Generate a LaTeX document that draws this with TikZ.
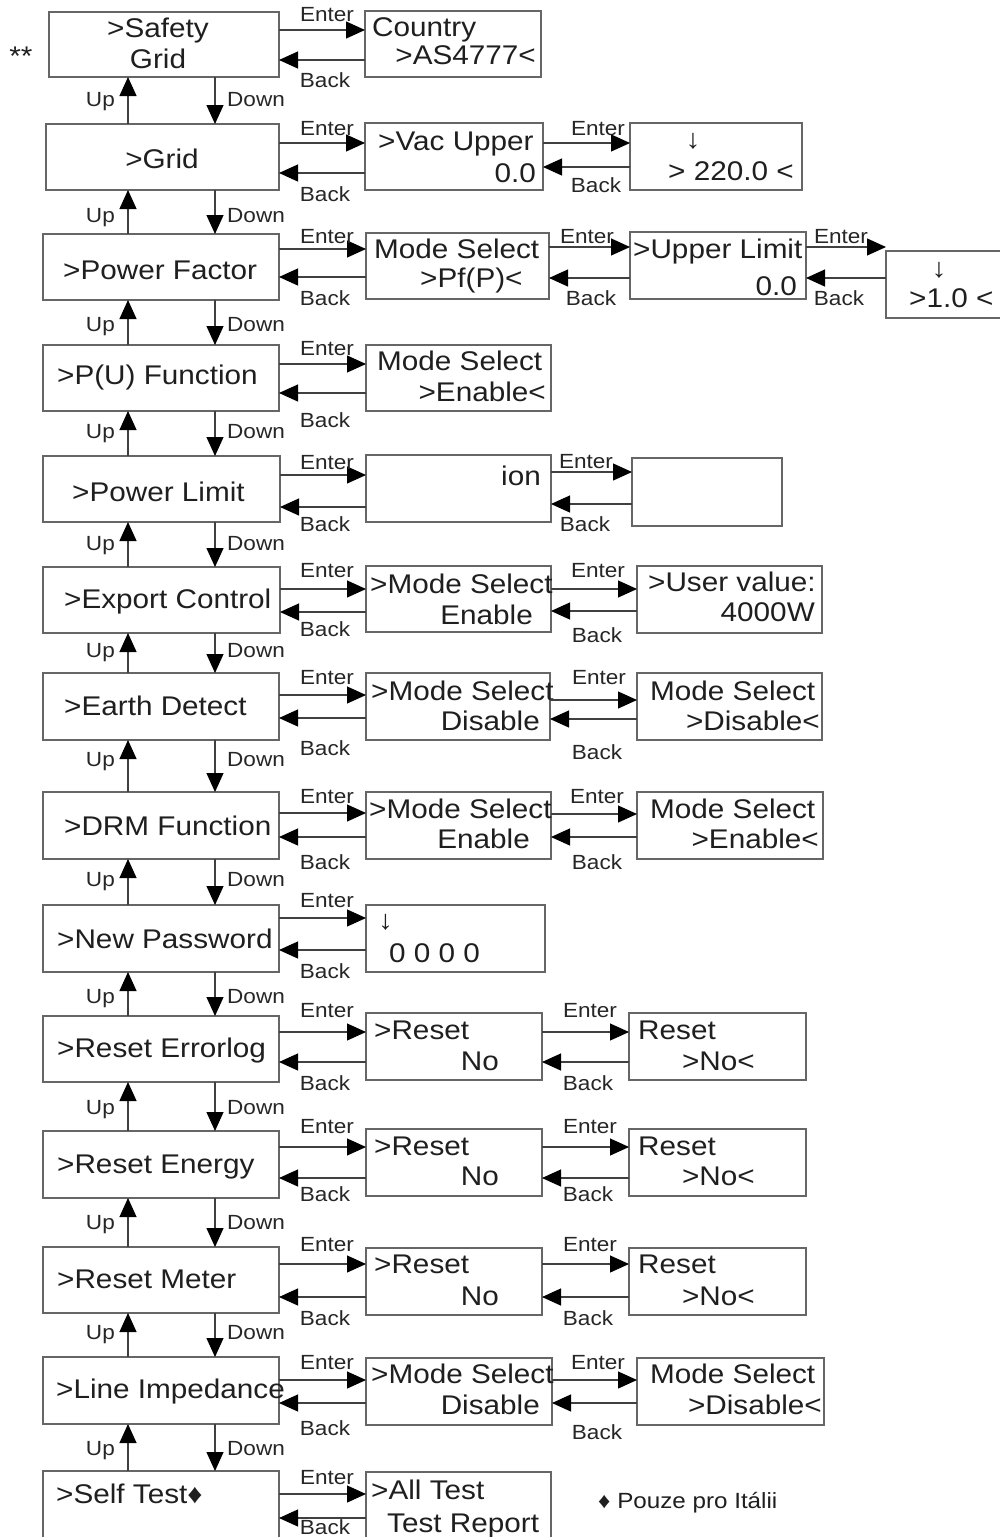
\documentclass[tikz,border=0pt]{standalone}
\usepackage{fontspec}
\setmainfont{Liberation Sans}[FakeStretch=1.1]
\usetikzlibrary{arrows.meta}
% a menu screen: name, left, top, right, bottom (y grows downwards)
\newcommand\panelbox[5]{\node[panel,minimum width={#4-#2},minimum height={#5-#3}] (#1) at (#2,#3) {};}
\begin{document}
\begin{tikzpicture}[x=1pt,y=-1pt,
  panel/.style={draw=black!60,line width=1.5pt,fill=white,anchor=north west,inner sep=0pt,outer sep=0pt},
  txt/.style={font=\fontsize{27}{30}\selectfont,inner sep=0pt,text=black!88},
  lab/.style={font=\fontsize{20.5}{22}\selectfont,inner sep=0pt,text=black!85},
  note/.style={font=\fontsize{22}{24}\selectfont,inner sep=0pt,text=black!88},
  arr/.style={draw=black!75,line width=1.1pt,-{Triangle[length=19pt,width=17pt,color=black]}},
]
\clip (0,0) rectangle (1000,1537);
\fill[white] (0,0) rectangle (1000,1537);

% ---------- left column: main menu ----------
\panelbox{m1}{49}{12}{279}{77}
\panelbox{m2}{46}{124}{279}{190}
\panelbox{m3}{43}{234}{279}{300}
\panelbox{m4}{43}{345}{279}{411}
\panelbox{m5}{43}{456}{280}{522}
\panelbox{m6}{43}{567}{280}{633}
\panelbox{m7}{43}{673}{279}{740}
\panelbox{m8}{43}{792}{279}{859}
\panelbox{m9}{43}{905}{279}{972}
\panelbox{m10}{43}{1016}{279}{1082}
\panelbox{m11}{43}{1131}{279}{1198}
\panelbox{m12}{43}{1247}{279}{1313}
\panelbox{m13}{43}{1357}{279}{1424}
\panelbox{m14}{43}{1471}{279}{1560}

\node[txt,anchor=base] (star) at (21,65) {**};
\node[txt,anchor=base] (m1a) at (158,37) {>Safety};
\node[txt,anchor=base] (m1b) at (158,68) {Grid};
\node[txt,anchor=base] (m2a) at (162,168) {>Grid};
\node[txt,anchor=base west] (m3a) at (63,279) {>Power Factor};
\node[txt,anchor=base west] (m4a) at (57,384) {>P(U) Function};
\node[txt,anchor=base west] (m5a) at (72,501) {>Power Limit};
\node[txt,anchor=base west] (m6a) at (64,608) {>Export Control};
\node[txt,anchor=base west] (m7a) at (64,715) {>Earth Detect};
\node[txt,anchor=base west] (m8a) at (64,835) {>DRM Function};
\node[txt,anchor=base west] (m9a) at (57,948) {>New Password};
\node[txt,anchor=base west] (m10a) at (57,1057) {>Reset Errorlog};
\node[txt,anchor=base west] (m11a) at (57,1173) {>Reset Energy};
\node[txt,anchor=base west] (m12a) at (57,1288) {>Reset Meter};
\node[txt,anchor=base west] (m13a) at (56,1398) {>Line Impedance};
\node[txt,anchor=base west] (m14a) at (56,1503) {>Self Test♦};

% ---------- second column ----------
\panelbox{s1}{365}{11}{541}{77}
\panelbox{s2}{365}{123}{543}{190}
\panelbox{s3}{366}{233}{549}{299}
\panelbox{s4}{366}{345}{551}{411}
\panelbox{s5}{366}{455}{551}{522}
\panelbox{s6}{366}{566}{551}{632}
\panelbox{s7}{366}{673}{550}{740}
\panelbox{s8}{366}{792}{551}{859}
\panelbox{s9}{366}{905}{545}{972}
\panelbox{s10}{366}{1013}{542}{1080}
\panelbox{s11}{366}{1129}{542}{1196}
\panelbox{s12}{366}{1248}{542}{1315}
\panelbox{s13}{366}{1358}{552}{1425}
\panelbox{s14}{366}{1472}{551}{1560}

\node[txt,anchor=base west] (s1a) at (372,36) {Country};
\node[txt,anchor=base east] (s1b) at (536,64) {>AS4777<};
\node[txt,anchor=base west] (s2a) at (378,150) {>Vac Upper};
\node[txt,anchor=base east] (s2b) at (536,182) {0.0};
\node[txt,anchor=base west] (s3a) at (374,258) {Mode Select};
\node[txt,anchor=base west] (s3b) at (420,287) {>Pf(P)<};
\node[txt,anchor=base west] (s4a) at (377,370) {Mode Select};
\node[txt,anchor=base east] (s4b) at (546,401) {>Enable<};
\node[txt,anchor=base east] (s5a) at (541,485) {ion};
\node[txt,anchor=base west] (s6a) at (370,593) {>Mode Select};
\node[txt,anchor=base east] (s6b) at (533,624) {Enable};
\node[txt,anchor=base west] (s7a) at (371,700) {>Mode Select};
\node[txt,anchor=base east] (s7b) at (540,730) {Disable};
\node[txt,anchor=base west] (s8a) at (369,818) {>Mode Select};
\node[txt,anchor=base east] (s8b) at (530,848) {Enable};
\node[txt,anchor=base west] (s9a) at (378,929) {↓};
\node[txt,anchor=base west] (s9b) at (389,962) {0 0 0 0};
\node[txt,anchor=base west] (s10a) at (374,1039) {>Reset};
\node[txt,anchor=base east] (s10b) at (499,1070) {No};
\node[txt,anchor=base west] (s11a) at (374,1155) {>Reset};
\node[txt,anchor=base east] (s11b) at (499,1185) {No};
\node[txt,anchor=base west] (s12a) at (374,1273) {>Reset};
\node[txt,anchor=base east] (s12b) at (499,1305) {No};
\node[txt,anchor=base west] (s13a) at (371,1383) {>Mode Select};
\node[txt,anchor=base east] (s13b) at (540,1414) {Disable};
\node[txt,anchor=base west] (s14a) at (371,1499) {>All Test};
\node[txt,anchor=base west] (s14b) at (387,1532) {Test Report};

% ---------- third and fourth columns ----------
\panelbox{t2}{630}{123}{802}{190}
\panelbox{t3}{630}{232}{806}{299}
\panelbox{u3}{886}{251}{1010}{318}
\panelbox{t5}{632}{458}{782}{526}
\panelbox{t6}{637}{566}{822}{633}
\panelbox{t7}{637}{673}{822}{740}
\panelbox{t8}{637}{792}{823}{859}
\panelbox{t10}{629}{1013}{806}{1080}
\panelbox{t11}{629}{1129}{806}{1196}
\panelbox{t12}{629}{1248}{806}{1315}
\panelbox{t13}{637}{1358}{824}{1425}

\node[txt,anchor=base] (t2a) at (693,148) {↓};
\node[txt,anchor=base west] (t2b) at (668,180) {> 220.0 <};
\node[txt,anchor=base west] (t3a) at (633,258) {>Upper Limit};
\node[txt,anchor=base east] (t3b) at (797,295) {0.0};
\node[txt,anchor=base] (u3a) at (939,277) {↓};
\node[txt,anchor=base west] (u3b) at (909,307) {>1.0 <};
\node[txt,anchor=base west] (t6a) at (648,591) {>User value:};
\node[txt,anchor=base east] (t6b) at (815,621) {4000W};
\node[txt,anchor=base west] (t7a) at (650,700) {Mode Select};
\node[txt,anchor=base east] (t7b) at (820,730) {>Disable<};
\node[txt,anchor=base west] (t8a) at (650,818) {Mode Select};
\node[txt,anchor=base east] (t8b) at (819,848) {>Enable<};
\node[txt,anchor=base west] (t10a) at (638,1039) {Reset};
\node[txt,anchor=base east] (t10b) at (755,1070) {>No<};
\node[txt,anchor=base west] (t11a) at (638,1155) {Reset};
\node[txt,anchor=base east] (t11b) at (755,1185) {>No<};
\node[txt,anchor=base west] (t12a) at (638,1273) {Reset};
\node[txt,anchor=base east] (t12b) at (755,1305) {>No<};
\node[txt,anchor=base west] (t13a) at (650,1383) {Mode Select};
\node[txt,anchor=base east] (t13b) at (822,1414) {>Disable<};

\node[note,anchor=base west] (foot) at (598,1508) {♦ Pouze pro Itálii};

% ---------- Up / Down between main items ----------
\foreach \i/\c in {1/99,2/215,3/324,4/431,5/543,6/650,7/759,8/879,9/996,10/1107,11/1222,12/1332,13/1448}{
  \pgfmathtruncatemacro\nx{\i+1}
  \draw[arr] (m\nx.north -| 128,0) -- (m\i.south -| 128,0);
  \draw[arr] (m\i.south -| 215,0) -- (m\nx.north -| 215,0);
  \node[lab,anchor=base east] (up\i) at (115,\c+7) {Up};
  \node[lab,anchor=base west] (dn\i) at (227,\c+7) {Down};
}

% ---------- Enter / Back: main item to first sub-screen ----------
\foreach \r/\en/\bk/\ec/\bc in {1/30/60/14/80, 2/143/173/128/194, 3/249/277/236/298,
  4/364/393/348/420, 5/475/507/462/524, 6/589/612/570/629, 7/695/718/677/748,
  8/813/837/796/862, 9/918/950/900/971, 10/1032/1062/1010/1083, 11/1147/1178/1126/1194,
  12/1264/1297/1244/1318, 13/1380/1403/1362/1428, 14/1494/1518/1477/1527}{
  \draw[arr] (m\r.east |- 0,\en) -- (s\r.west |- 0,\en);
  \draw[arr] (s\r.west |- 0,\bk) -- (m\r.east |- 0,\bk);
  \node[lab,anchor=base] (ent\r) at (327,\ec+7) {Enter};
  \node[lab,anchor=base] (bck\r) at (325,\bc+7) {Back};
}

% ---------- Enter / Back: first sub-screen to second ----------
\foreach \r/\en/\bk/\ex/\ec/\bx/\bc in {2/143/167/598/128/596/185, 3/247/278/587/236/591/298,
  5/472/504/586/461/585/524, 6/589/611/598/570/597/635, 7/700/719/599/677/597/752,
  8/814/837/597/796/597/862, 10/1032/1062/590/1010/588/1083, 11/1147/1178/590/1126/588/1194,
  12/1264/1297/590/1244/588/1318, 13/1380/1403/598/1362/597/1432}{
  \draw[arr] (s\r.east |- 0,\en) -- (t\r.west |- 0,\en);
  \draw[arr] (t\r.west |- 0,\bk) -- (s\r.east |- 0,\bk);
  \node[lab,anchor=base] (ent2\r) at (\ex,\ec+7) {Enter};
  \node[lab,anchor=base] (bck2\r) at (\bx,\bc+7) {Back};
}

% ---------- Enter / Back: upper limit to its value ----------
\draw[arr] (t3.east |- 0,247) -- (u3.west |- 0,247);
\draw[arr] (u3.west |- 0,278) -- (t3.east |- 0,278);
\node[lab,anchor=base] (ent33) at (841,243) {Enter};
\node[lab,anchor=base] (bck33) at (839,305) {Back};
\end{tikzpicture}
\end{document}
